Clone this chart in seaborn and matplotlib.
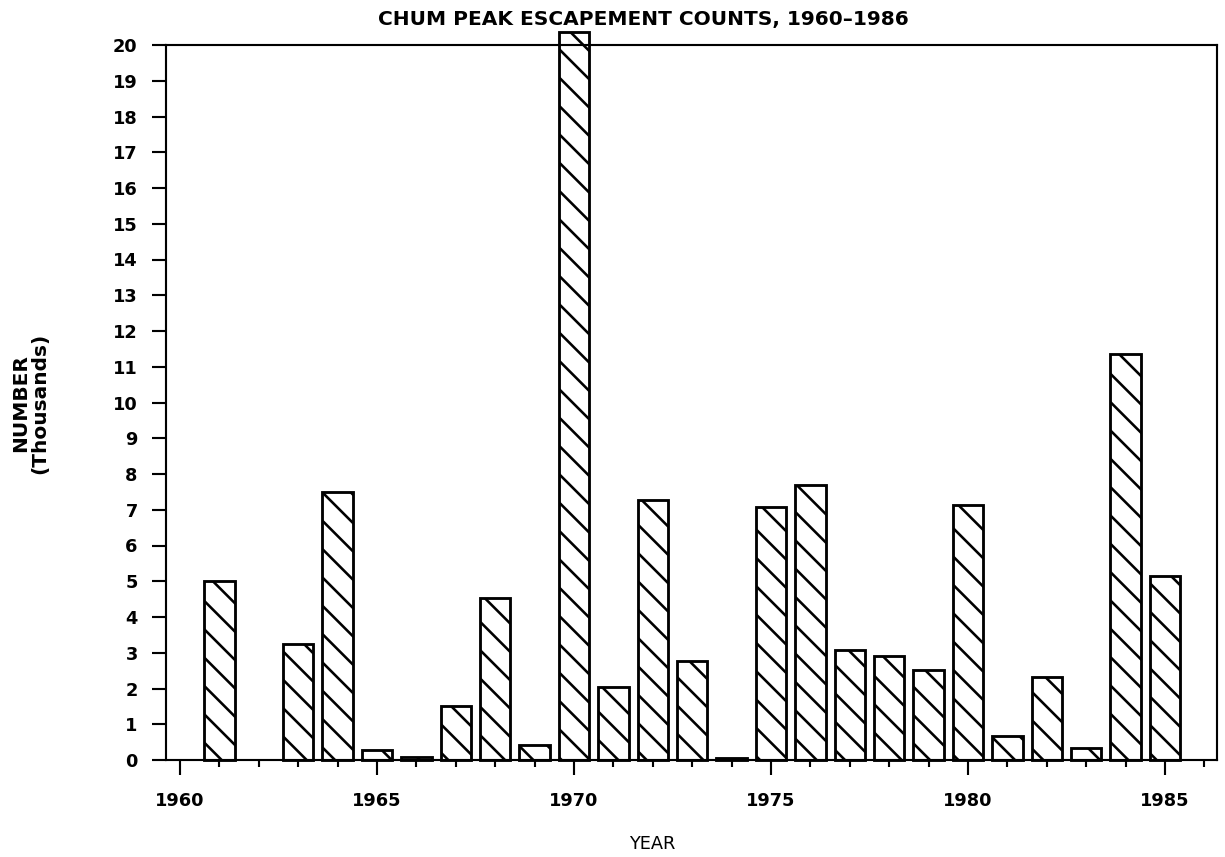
import matplotlib
matplotlib.use("Agg")
import matplotlib.pyplot as plt
import seaborn as sns
import pandas as pd

# chum peak escapement counts (thousands)
years = [1961, 1963, 1964, 1965, 1966, 1967, 1968, 1969, 1970, 1971, 1972, 1973,
         1974, 1975, 1976, 1977, 1978, 1979, 1980, 1981, 1982, 1983, 1984, 1985]
counts = [5.0, 3.25, 7.5, 0.28, 0.08, 1.5, 4.52, 0.41, 20.35, 2.04, 7.27, 2.76,
          0.05, 7.07, 7.68, 3.08, 2.9, 2.52, 7.12, 0.67, 2.33, 0.33, 11.35, 5.16]
major_years = [1960, 1965, 1970, 1975, 1980, 1985]
minor_years = list(range(1961, 1987))
y_ticks = list(range(0, 21))

df = pd.DataFrame({"Year": years, "Count": counts})

sns.set_style("ticks", {"axes.edgecolor": "black", "text.color": "black",
                        "xtick.color": "black", "ytick.color": "black"})
plt.rcParams["font.family"] = ["DejaVu Sans"]
plt.rcParams["hatch.linewidth"] = 1.1
plt.rcParams["hatch.color"] = "black"

DPI = 170
fig = plt.figure(figsize=(1225 / DPI, 857 / DPI), dpi=DPI)
ax = fig.add_axes([166 / 1225, 1 - 760 / 857, (1217 - 166) / 1225, (760 - 45) / 857])

sns.barplot(data=df, x="Year", y="Count", native_scale=True, width=0.77,
            color="white", edgecolor="black", linewidth=1.2, hatch="\\\\",
            errorbar=None, clip_on=False, ax=ax)

ax.set_xlim(1959.645, 1986.32)
ax.set_ylim(0, 20)
ax.set_xticks(major_years)
ax.set_xticklabels([str(y) for y in major_years], fontsize=7.5, fontweight="bold")
ax.set_xticks([y for y in minor_years if y not in major_years], minor=True)
ax.set_yticks(y_ticks)
ax.set_yticklabels([str(v) for v in y_ticks], fontsize=7.5, fontweight="bold")
ax.tick_params(axis="x", which="major", direction="out", length=6.4, width=0.9, pad=7)
ax.tick_params(axis="x", which="minor", direction="out", length=3, width=0.9)
ax.tick_params(axis="y", direction="out", length=6, width=0.9, pad=6)
for side in ["left", "right", "top", "bottom"]:
    ax.spines[side].set_visible(True)
    ax.spines[side].set_linewidth(0.9)
ax.set_xlabel("")
ax.set_ylabel("")

fig.text(643 / 1225, 1 - 20 / 857, "CHUM PEAK ESCAPEMENT COUNTS, 1960\u20131986",
         ha="center", va="center", fontsize=8.5, fontweight="bold", zorder=5)
fig.text(652 / 1225, 1 - 844 / 857, "YEAR", ha="center", va="center", fontsize=7.5)
fig.text(30 / 1225, 1 - 403 / 857, "NUMBER\n(Thousands)", ha="center", va="center",
         rotation=90, fontsize=8.5, fontweight="bold", linespacing=1.0)

fig.savefig("out.png", dpi=DPI)
